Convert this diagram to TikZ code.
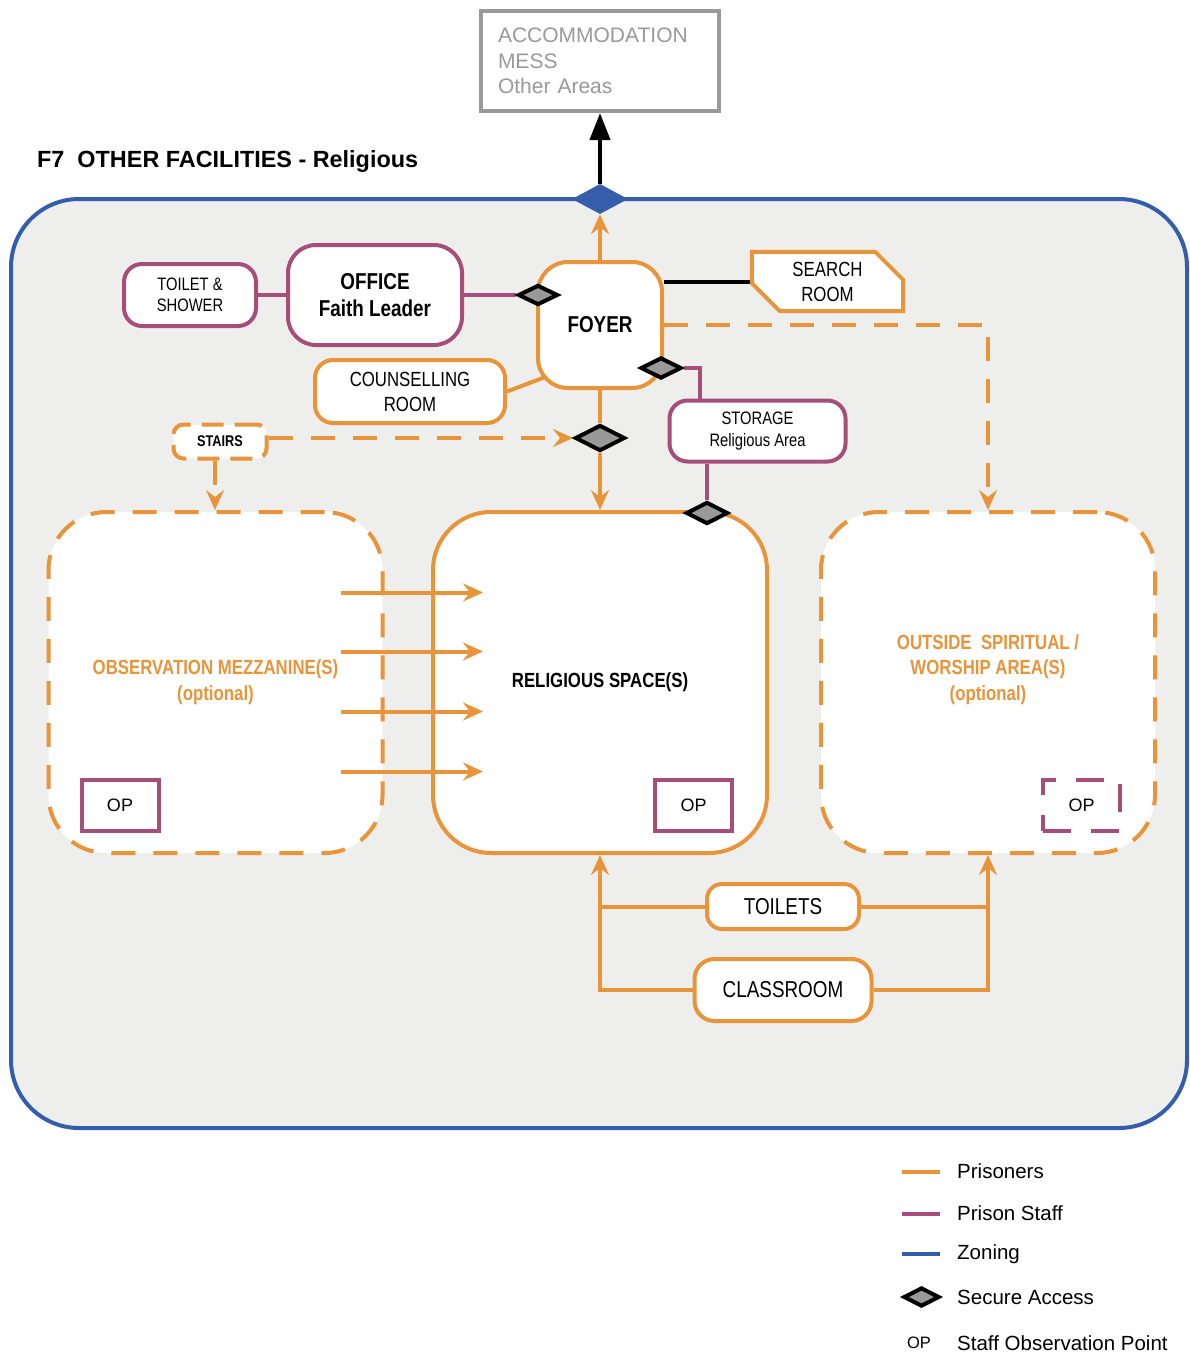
\documentclass[tikz,border=0pt]{standalone}
\usepackage{fontspec}
\setmainfont{Liberation Sans}
\newfontfamily\nar[FakeStretch=0.82]{Liberation Sans}
\usetikzlibrary{shapes.geometric,arrows.meta,calc}
\definecolor{cor}{HTML}{E8943A}
\definecolor{cpu}{HTML}{A64E7A}
\definecolor{cbl}{HTML}{345DAC}
\definecolor{cgr}{HTML}{999999}
\definecolor{cbg}{HTML}{EEEEEC}
\pgfdeclarelayer{zonelayer}
\pgfdeclarelayer{lines}
\pgfsetlayers{zonelayer,lines,main}
\newcommand{\fsz}[2]{\fontsize{#1}{#2}\selectfont}
\tikzset{
  room/.style={draw, line width=4pt, fill=white, inner sep=0pt, align=center},
  oroom/.style={room, draw=cor},
  proom/.style={room, draw=cpu},
  sec/.style={diamond, draw=black, line width=4pt, fill=cgr, inner sep=0pt},
  oline/.style={draw=cor, line width=4pt},
  pline/.style={draw=cpu, line width=4pt},
  odash/.style={dash pattern=on 24pt off 18pt},
  oarr/.style={-{Stealth[length=20pt,width=18pt,inset=7pt]}},
  opbox/.style={draw=cpu, line width=4pt, fill=white, minimum width=77pt, minimum height=51pt, inner sep=0pt, font=\fsz{18}{20}},
  bigbox/.style={line width=4pt, fill=white, rounded corners=58pt, minimum width=334pt, minimum height=341pt, inner sep=0pt, align=center},
  legtext/.style={anchor=west, inner sep=0pt, font=\fsz{20.5}{24}},
}
\begin{document}
\begin{tikzpicture}[x=1pt,y=-1pt]
\useasboundingbox (0,0) rectangle (1190,1358);

% zone
\begin{pgfonlayer}{zonelayer}
\node[draw=cbl, line width=4pt, fill=cbg, rounded corners=68pt, minimum width=1176pt, minimum height=929pt, inner sep=0pt] (zone) at (599,663.5) {};
\end{pgfonlayer}

% title and destination
\node[anchor=west, inner sep=0pt, font=\bfseries\fsz{23.4}{26}] (title) at (37,161) {F7\ \ OTHER FACILITIES - Religious};
\node[draw=cgr, line width=4pt, fill=white, minimum width=238pt, minimum height=100pt, text width=204pt, inner xsep=17pt, inner ysep=0pt, align=left, text=cgr, font=\fsz{21}{25.5}] (dest) at (600,61) {ACCOMMODATION\\MESS\\Other Areas};
\node[diamond, fill=cbl, minimum width=56pt, minimum height=30pt, inner sep=0pt] (zd) at (600,199) {};

% rooms
\node[oroom, rounded corners=30pt, minimum width=124pt, minimum height=126pt, font=\nar\bfseries\fsz{23}{27}] (foyer) at (600,325) {FOYER};
\node[proom, rounded corners=28pt, minimum width=174pt, minimum height=100pt, font=\nar\bfseries\fsz{23}{27}] (office) at (375,295) {OFFICE\\Faith Leader};
\node[proom, rounded corners=18pt, minimum width=132pt, minimum height=62pt, font=\nar\fsz{18}{21}] (tshow) at (190,295) {TOILET \&\\SHOWER};
\node[oroom, rounded corners=18pt, minimum width=190pt, minimum height=63pt, font=\nar\fsz{20.5}{25}] (couns) at (410,391.5) {COUNSELLING\\ROOM};
\node[align=center, inner sep=0pt, minimum width=151pt, minimum height=59pt, font=\nar\fsz{20.5}{25}] (search) at (827.5,281.5) {SEARCH\\ROOM};
\node[proom, rounded corners=18pt, minimum width=176pt, minimum height=61pt, font=\nar\fsz{18}{22}] (storage) at (757.5,431) {STORAGE\\Religious Area};
\node[draw=cor, line width=4pt, dash pattern=on 22pt off 11pt, fill=white, rounded corners=10pt, minimum width=93pt, minimum height=34pt, inner sep=0pt, font=\nar\bfseries\fsz{15.5}{18}] (stairs) at (220,441.5) {STAIRS};

% big spaces
\node[bigbox, draw=cor, odash, text=cor, font=\nar\bfseries\fsz{20.5}{26}] (mezz) at (215.5,682.5) {OBSERVATION MEZZANINE(S)\\(optional)};
\node[bigbox, draw=cor, font=\nar\bfseries\fsz{20.5}{24}] (relig) at (600,682.5) {RELIGIOUS SPACE(S)};
\node[bigbox, draw=cor, odash] (out) at (988,682.5) {};
\node[align=center, inner sep=0pt, text=cor, font=\nar\bfseries\fsz{20.5}{25.5}] (outtext) at (988,669.5) {OUTSIDE\ \ SPIRITUAL /\\WORSHIP AREA(S)\\(optional)};

% secure access points
\node[sec, minimum width=40pt, minimum height=20pt] (d1) at (538,295) {};
\node[sec, minimum width=41pt, minimum height=21pt] (d2) at (661,368) {};
\node[sec, minimum width=50pt, minimum height=26pt] (d4) at (600,438) {};
\node[sec, minimum width=42pt, minimum height=22pt] (d3) at (707,513) {};

\node[opbox] (op1) at (120,805.5) {OP};
\node[opbox] (op2) at (693.5,805.5) {OP};
\node[opbox, dash pattern=on 28pt off 20pt] (op3) at (1081.5,805) {OP};

\node[oroom, rounded corners=15pt, minimum width=152pt, minimum height=45pt, font=\nar\fsz{23}{27}] (toil) at (783,906.5) {TOILETS};
\node[oroom, rounded corners=20pt, minimum width=177pt, minimum height=62pt, font=\nar\fsz{23}{27}] (class) at (783,990) {CLASSROOM};

% connectors
\begin{pgfonlayer}{lines}
\draw[line width=4pt, -{Triangle[length=27pt,width=20pt]}] (zd.north) -- (dest.south);
\draw[oline, oarr] (foyer.north) -- (zd.south);
\draw[line width=4pt] (foyer.east |- search.west) -- (search.west);
\draw[draw=cor, line width=4pt, fill=white]
  (search.north west) -- ($(search.north east)+(-28,0)$) -- ($(search.north east)+(0,28)$)
  -- (search.south east) -- ($(search.south west)+(28,0)$) -- ($(search.south west)+(0,-28)$) -- cycle;
\draw[oline, odash, oarr] (foyer.east) -| (out.north);
\draw[pline] (tshow.east) -- (office.west);
\draw[pline] (office.east) -- (d1.west);
\draw[oline] (couns.east) -- ($(foyer.south west)+(12,-14)$);
\coordinate (sto) at ($(storage.north west)+(32,0)$);
\draw[pline] (d2.east) -| (sto);
\draw[pline] (d3 |- storage.south) -- (d3.north);
\draw[oline] (foyer.south) -- (d4.north);
\draw[oline, oarr] (d4.south) -- (relig.north);
\draw[oline, odash, oarr] (stairs.east |- d4.west) -- (d4.west);
\coordinate (stx) at ($(stairs.south)+(-5,0)$);
\draw[oline, odash, oarr] (stx) -- (stx |- mezz.north);
\draw[oline, oarr] (class.west) -| (relig.south);
\draw[oline] (toil.west) -- (toil.west -| relig.south);
\draw[oline, oarr] (class.east) -| (out.south);
\draw[oline] (toil.east) -- (toil.east -| out.south);
\end{pgfonlayer}

% viewing arrows
\foreach \dy in {-90,-31,29,89}
  \draw[oline, oarr] ($(mezz.east)+(-44,\dy)$) -- ($(relig.west)+(52,\dy)$);

% legend
\draw[oline] (902,1171.5) -- (940,1171.5);
\draw[pline] (902,1214) -- (940,1214);
\draw[draw=cbl, line width=4pt] (902,1254) -- (940,1254);
\node[sec, minimum width=36pt, minimum height=19pt] (lgd) at (921.5,1297) {};
\node[inner sep=0pt, font=\fsz{16.5}{18}] (lgop) at (919,1343) {OP};
\node[legtext] (l1) at (957,1171) {Prisoners};
\node[legtext] (l2) at (957,1213) {Prison Staff};
\node[legtext] (l3) at (957,1254) {Zoning};
\node[legtext] (l4) at (957,1297) {Secure Access};
\node[legtext] (l5) at (957,1343) {Staff Observation Point};
\end{tikzpicture}
\end{document}
